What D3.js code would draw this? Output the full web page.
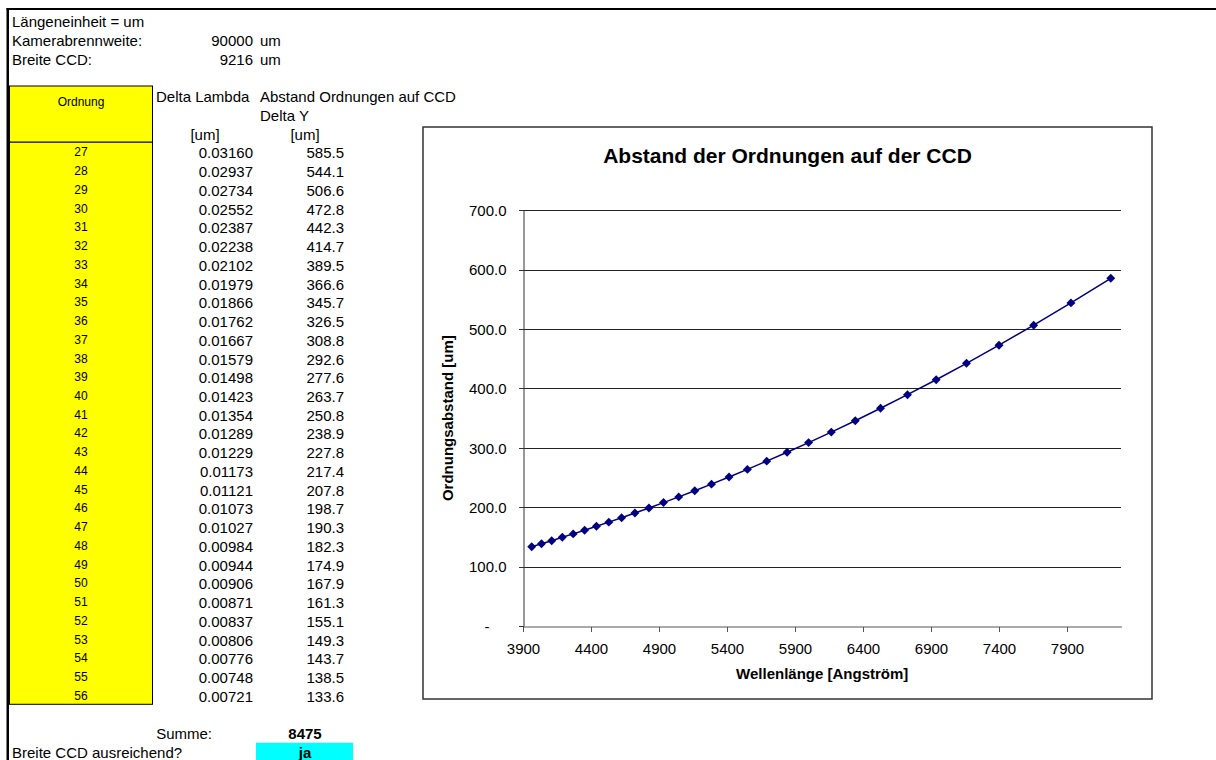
<!DOCTYPE html>
<html>
<head>
<meta charset="utf-8">
<script src="https://cdn.jsdelivr.net/npm/d3@7"></script>
<style>
  body { margin: 0; background: #fff; }
  svg text { font-family: "Liberation Sans", Arial, sans-serif; fill: #000; }
</style>
</head>
<body>
<div id="sheet"></div>
<script>
// sheet values
const orders = [27,28,29,30,31,32,33,34,35,36,37,38,39,40,41,42,43,44,45,46,47,48,49,50,51,52,53,54,55,56];
const deltaLambda = [0.03160,0.02937,0.02734,0.02552,0.02387,0.02238,0.02102,0.01979,0.01866,0.01762,
  0.01667,0.01579,0.01498,0.01423,0.01354,0.01289,0.01229,0.01173,0.01121,0.01073,
  0.01027,0.00984,0.00944,0.00906,0.00871,0.00837,0.00806,0.00776,0.00748,0.00721];
const deltaY = [585.5,544.1,506.6,472.8,442.3,414.7,389.5,366.6,345.7,326.5,
  308.8,292.6,277.6,263.7,250.8,238.9,227.8,217.4,207.8,198.7,
  190.3,182.3,174.9,167.9,161.3,155.1,149.3,143.7,138.5,133.6];
// wavelength of each order [Angstrom]
const wavelength = [8222,7929,7655,7400,7161,6938,6727,6529,6343,6167,
  6000,5842,5692,5550,5415,5286,5163,5045,4933,4826,
  4723,4625,4531,4440,4353,4269,4189,4111,4036,3964];
const focalLength = 90000;
const ccdWidth = 9216;
const xTicks = [3900,4400,4900,5400,5900,6400,6900,7400,7900];
const yTicks = [0,100,200,300,400,500,600,700];

const W = 1216, H = 760;
const svg = d3.select("#sheet").append("svg")
  .attr("width", W).attr("height", H);

// spreadsheet rows -> text baseline
const row = d3.scaleLinear().domain([0, 39]).range([27.3, 758]);
const rowTop = r => row(r - 1) + 2.5;

// sheet frame
svg.append("rect").attr("x", 6.5).attr("y", 8).attr("width", W - 6.5).attr("height", 2).attr("fill", "#000");
svg.append("rect").attr("x", 6.5).attr("y", 8).attr("width", 2.5).attr("height", H - 8).attr("fill", "#000");

const txt = (x, r, s, opt) => {
  opt = opt || {};
  return svg.append("text")
    .attr("x", x).attr("y", typeof r === "number" ? row(r) : r.y)
    .attr("text-anchor", opt.anchor || "start")
    .style("font-size", (opt.size || 15) + "px")
    .style("font-weight", opt.bold ? "bold" : "normal")
    .text(s);
};

// header block
txt(12, 0, "Längeneinheit = um");
txt(12, 1, "Kamerabrennweite:");
txt(253, 1, focalLength, {anchor: "end"});
txt(260, 1, "um");
txt(12, 2, "Breite CCD:");
txt(253, 2, ccdWidth, {anchor: "end"});
txt(260, 2, "um");

// yellow "Ordnung" column
svg.append("rect").attr("x", 9.5).attr("y", rowTop(4)).attr("width", 143)
  .attr("height", rowTop(7) - rowTop(4)).attr("fill", "#ffff00").attr("stroke", "#000");
svg.append("rect").attr("x", 9.5).attr("y", rowTop(7)).attr("width", 143)
  .attr("height", rowTop(7 + orders.length) - rowTop(7)).attr("fill", "#ffff00").attr("stroke", "#000");
txt(81, {y: 106}, "Ordnung", {anchor: "middle", size: 12});

txt(156, 4, "Delta Lambda");
txt(260, 4, "Abstand Ordnungen auf CCD");
txt(260, 5, "Delta Y");
txt(205, 6, "[um]", {anchor: "middle"});
txt(305, 6, "[um]", {anchor: "middle"});

orders.forEach((o, i) => {
  txt(81, {y: row(7 + i) - 2}, o, {anchor: "middle", size: 12});
  txt(253, 7 + i, deltaLambda[i].toFixed(5), {anchor: "end"});
  txt(344, 7 + i, deltaY[i].toFixed(1), {anchor: "end"});
});

// sum + check
const total = d3.sum(deltaY);
const nEnd = 7 + orders.length + 1;
txt(212, nEnd, "Summe:", {anchor: "end"});
txt(305, nEnd, Math.round(total), {anchor: "middle", bold: true});
svg.append("rect").attr("x", 256).attr("y", rowTop(nEnd + 1) + 1).attr("width", 97)
  .attr("height", H - rowTop(nEnd + 1)).attr("fill", "#00ffff");
txt(12, nEnd + 1, "Breite CCD ausreichend?");
txt(305, nEnd + 1, total <= ccdWidth ? "ja" : "nein", {anchor: "middle", bold: true});

/////////////////////////////////////////////////////////
//////////////////////// chart //////////////////////////
/////////////////////////////////////////////////////////
const box = {x: 423, y: 127, w: 729, h: 572};
svg.append("rect").attr("x", box.x).attr("y", box.y).attr("width", box.w).attr("height", box.h)
  .attr("fill", "#fff").attr("stroke", "#333").attr("stroke-width", 1.5);

const x = d3.scaleLinear().domain([3900, 8300]).range([523, 1121.4]);
const y = d3.scaleLinear().domain([0, 700]).range([626, 210.3]);

svg.append("text")
  .attr("x", box.x + box.w / 2).attr("y", 163.3)
  .attr("text-anchor", "middle")
  .style("font-size", "21px").style("font-weight", "bold")
  .text("Abstand der Ordnungen auf der CCD");

// gridlines
svg.append("g").selectAll("line").data(yTicks.filter(d => d > 0)).enter().append("line")
  .attr("x1", x.range()[0]).attr("x2", x.range()[1])
  .attr("y1", d => Math.round(y(d)) + 0.5).attr("y2", d => Math.round(y(d)) + 0.5)
  .attr("stroke", "#222").attr("shape-rendering", "crispEdges");

// axes
const gx = svg.append("g").attr("transform", "translate(0," + (Math.round(y(0)) + 0.5) + ")")
  .call(d3.axisBottom(x).tickValues(xTicks).tickSize(5).tickSizeOuter(0).tickFormat(d3.format("d")));
gx.select(".domain").attr("stroke", "#555");
gx.selectAll(".tick line").attr("stroke", "#555");
gx.selectAll(".tick text").attr("y", 27.5).attr("dy", 0)
  .style("font-size", "15px").attr("fill", "#000");

const gy = svg.append("g").attr("transform", "translate(" + (x(3900) + 0.5) + ",0)")
  .call(d3.axisLeft(y).tickValues(yTicks).tickSize(5).tickSizeOuter(0)
    .tickFormat(d => d === 0 ? "-" : d3.format(".1f")(d)));
gy.select(".domain").attr("stroke", "#333");
gy.selectAll(".tick line").attr("stroke", "#333");
gy.selectAll(".tick text").attr("x", -17).attr("dy", "0.35em")
  .style("font-size", "15px").attr("fill", "#000");
gy.selectAll(".tick text").filter(d => d === 0).attr("x", -34);
svg.selectAll(".tick line").attr("shape-rendering", "crispEdges");

svg.append("text")
  .attr("x", (x.range()[0] + x.range()[1]) / 2).attr("y", 678.5)
  .attr("text-anchor", "middle")
  .style("font-size", "15px").style("font-weight", "bold")
  .text("Wellenlänge [Angström]");

svg.append("text")
  .attr("transform", "translate(453," + (y.range()[0] + y.range()[1]) / 2 + ") rotate(-90)")
  .attr("text-anchor", "middle")
  .style("font-size", "15px").style("font-weight", "bold")
  .text("Ordnungsabstand [um]");

// series
const pts = wavelength.map((w, i) => ({w: w, v: deltaY[i]}));
svg.append("path").datum(pts)
  .attr("d", d3.line().x(d => x(d.w)).y(d => y(d.v)))
  .attr("fill", "none").attr("stroke", "#000080").attr("stroke-width", 1.5);

svg.append("g").selectAll("path").data(pts).enter().append("path")
  .attr("d", d3.symbol(d3.symbolSquare, 40))
  .attr("transform", d => "translate(" + x(d.w) + "," + y(d.v) + ") rotate(45)")
  .attr("fill", "#000080");
</script>
</body>
</html>
